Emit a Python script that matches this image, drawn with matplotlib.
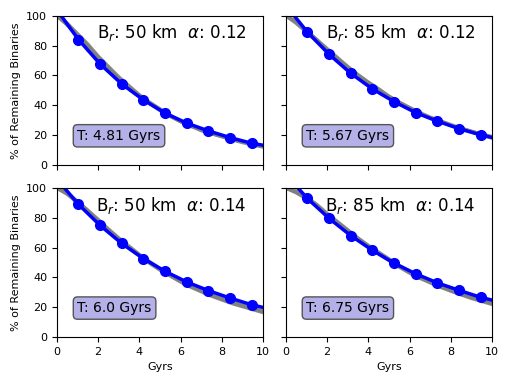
import numpy as np
import matplotlib.pyplot as plt

# model points (blue), sampled every 1.05 Gyr
xm = [0, 1.05, 2.1, 3.15, 4.2, 5.25, 6.3, 7.35, 8.4, 9.45, 10.5]
model_50_12 = [104, 84, 67.6, 54.2, 43.6, 34.7, 28, 22.8, 18.3, 14.5, 12]
model_85_12 = [107, 89, 74.1, 61.4, 50.9, 42.4, 35, 29.3, 24.3, 20.1, 16.8]
model_50_14 = [106, 89, 74.9, 62.8, 52.7, 44.1, 37, 31.2, 26.2, 21.7, 18.3]
model_85_14 = [109, 93, 79.6, 68.1, 58.2, 49.6, 42.5, 36.4, 31.4, 26.7, 23.2]

# simulation runs (gray)
xs = [0, 0.5, 1, 1.5, 2, 2.5, 3, 3.5, 4, 4.5, 5, 5.5, 6, 6.5, 7, 7.5, 8, 8.5, 9, 9.5, 10]
sim_50_12 = [
    [100, 94, 87, 80, 72, 65, 58, 52, 46.5, 41.5, 37, 33, 29.5, 26.5, 24, 21.5, 19.5, 17.5, 15.5, 14, 12.5],
    [100, 95, 88, 81, 73, 66, 59, 53, 47, 42, 37.5, 33, 29, 26, 23.5, 21, 19, 17, 15, 13.5, 12],
    [100, 94, 86, 79, 71, 64, 57, 51, 45.5, 41, 36.5, 32.5, 29, 26, 23, 21, 19, 17, 15.5, 14, 12.5],
]
sim_85_12 = [
    [100, 96, 90, 84, 78, 72, 66, 60.5, 55.5, 51, 46, 42, 38.5, 35, 32, 29.5, 27, 24.5, 22.5, 20.5, 18.5],
    [100, 95, 89, 83, 77, 71, 65, 60, 55, 50, 45.5, 41.5, 38, 34.5, 31.5, 29, 26.5, 24, 22, 20, 18],
    [100, 96, 90, 84, 77, 71, 65.5, 60, 55, 50.5, 46, 42, 38, 34.5, 31.5, 29, 26.5, 24.5, 22.5, 20.5, 19],
]
sim_50_14 = [
    [100, 96, 91, 85, 78, 72, 66, 60, 55, 50, 45.5, 41.5, 37.5, 34, 31, 28, 25.5, 23, 21, 19, 17],
    [100, 96, 90, 84, 77, 71, 65, 59.5, 54.5, 49.5, 45, 41, 37, 33.5, 30.5, 27.5, 25, 22.5, 20.5, 18.5, 16.5],
    [100, 97, 91, 85, 79, 72.5, 66.5, 61, 55.5, 50.5, 46, 42, 38, 34.5, 31.5, 28.5, 26, 23.5, 21.5, 19.5, 17.5],
]
sim_85_14 = [
    [100, 97, 93, 88, 82, 76.5, 71, 66, 61, 56.5, 52, 47.5, 43.5, 40, 37, 34, 31, 28.5, 26.5, 24.5, 22.5],
    [100, 98, 94, 89, 83, 77.5, 72, 66.5, 61.5, 57, 52.5, 48, 44, 40.5, 37, 34, 31.5, 29, 27, 25, 23],
    [100, 97, 93, 88, 82.5, 77, 71.5, 66, 61, 56, 51.5, 47, 43, 39.5, 36.5, 33.5, 31, 28.5, 26, 24, 22],
]

panels = [
    ('50', '0.12', '4.81', model_50_12, sim_50_12),
    ('85', '0.12', '5.67', model_85_12, sim_85_12),
    ('50', '0.14', '6.0', model_50_14, sim_50_14),
    ('85', '0.14', '6.75', model_85_14, sim_85_14),
]

fig, axes = plt.subplots(2, 2, figsize=(5.12, 3.84), dpi=100, sharex=True, sharey=True)
fig.subplots_adjust(left=0.111, right=0.961, top=0.959, bottom=0.122, wspace=0.11, hspace=0.155)

for ax, (br, alpha, T, model, sims) in zip(axes.flat, panels):
    for s in sims:
        ax.plot(xs, s, color='gray', lw=2.5, alpha=0.9)
    ax.plot(xm, model, color='blue', lw=2.5, marker='o', ms=7)
    ax.text(0.92, 0.885, r'B$_r$: %s km  $\alpha$: %s' % (br, alpha),
            transform=ax.transAxes, ha='right', va='center', fontsize=12)
    ax.text(0.1, 0.195, 'T: %s Gyrs' % T, transform=ax.transAxes, ha='left', va='center',
            fontsize=10, bbox=dict(boxstyle='round,pad=0.3', facecolor='#b4b0e8', edgecolor='#555555'))
    ax.set_xlim(0, 10)
    ax.set_ylim(0, 100)
    ax.tick_params(labelsize=8)

for ax in axes[:, 0]:
    ax.set_ylabel('% of Remaining Binaries', fontsize=8)
for ax in axes[1, :]:
    ax.set_xlabel('Gyrs', fontsize=8)

plt.savefig('out.png')
